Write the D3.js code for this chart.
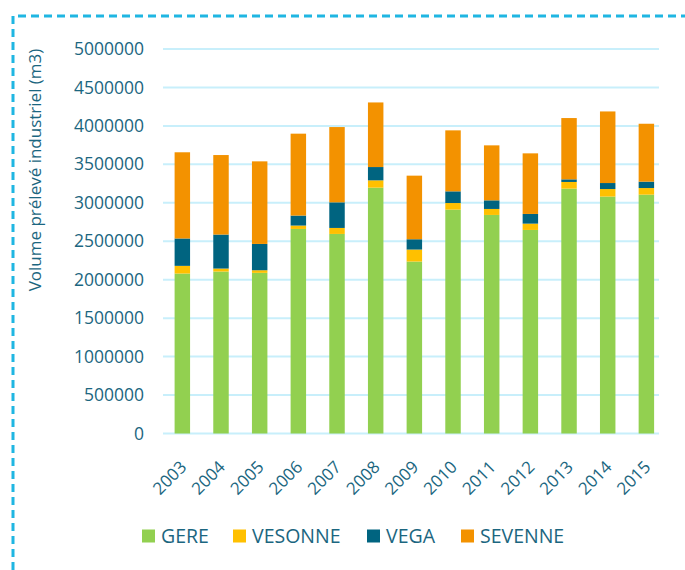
<!DOCTYPE html>
<html>
<head>
<meta charset="utf-8">
<script src="https://cdn.jsdelivr.net/npm/d3@7"></script>
<style>
  html, body { margin: 0; padding: 0; background: #fff; }
  svg { display: block; font-family: "Open Sans", sans-serif; }
</style>
</head>
<body>
<svg id="chart" width="685" height="570"></svg>
<script>
// Volume prélevé industriel per year, stacked by source
const years = ['2003', '2004', '2005', '2006', '2007', '2008', '2009', '2010', '2011', '2012', '2013', '2014', '2015'];
const gere    = [2080000, 2106000, 2089000, 2660000, 2595000, 3197000, 2236000, 2911000, 2842000, 2647000, 3184000, 3081000, 3106000];
const vesonne = [100000, 39000, 34000, 44000, 78000, 95000, 156000, 86000, 78000, 82000, 87000, 98000, 86000];
const vega    = [356000, 442000, 342000, 130000, 333000, 173000, 134000, 152000, 112000, 126000, 34000, 78000, 83000];
const sevenne = [1121000, 1034000, 1074000, 1065000, 979000, 840000, 827000, 793000, 715000, 788000, 797000, 931000, 753000];
const seriesNames = ['GERE', 'VESONNE', 'VEGA', 'SEVENNE'];
const yTicks = [0, 500000, 1000000, 1500000, 2000000, 2500000, 3000000, 3500000, 4000000, 4500000, 5000000];

const colors = { GERE: '#92d050', VESONNE: '#ffc000', VEGA: '#006480', SEVENNE: '#f39200' };
const textColor = '#1b6680';

const rows = years.map((y, i) => ({
  year: y, GERE: gere[i], VESONNE: vesonne[i], VEGA: vega[i], SEVENNE: sevenne[i]
}));
const stacked = d3.stack().keys(seriesNames)(rows);

const svg = d3.select('#chart');

// dashed frame (only top and left edges are in view)
svg.append('path')
  .attr('d', 'M13,700V16H700')
  .attr('fill', 'none')
  .attr('stroke', '#1fb6e2')
  .attr('stroke-width', 3)
  .attr('stroke-dasharray', '8,5');

const plotLeft = 163, plotRight = 659;
const y = d3.scaleLinear().domain([0, 5000000]).range([433.5, 49]);
const x = d3.scaleBand().domain(years)
  .range([163, 163 + 13 * 38.67])
  .paddingInner(0.6).paddingOuter(0.3);

// gridlines
svg.append('g')
  .selectAll('line')
  .data(yTicks)
  .join('line')
  .attr('x1', plotLeft).attr('x2', plotRight)
  .attr('y1', (d) => y(d)).attr('y2', (d) => y(d))
  .attr('stroke', '#c8effb')
  .attr('stroke-width', 2);

// y tick labels
svg.append('g')
  .selectAll('text')
  .data(yTicks)
  .join('text')
  .attr('x', 144)
  .attr('y', (d) => y(d))
  .attr('dy', '0.35em')
  .attr('text-anchor', 'end')
  .attr('font-size', 17.5)
  .attr('fill', textColor)
  .text((d) => String(d));

// bars
svg.append('g')
  .selectAll('g')
  .data(stacked)
  .join('g')
  .attr('fill', (s) => colors[s.key])
  .selectAll('rect')
  .data((s) => s)
  .join('rect')
  .attr('x', (d) => x(d.data.year))
  .attr('width', x.bandwidth())
  .attr('y', (d) => y(d[1]))
  .attr('height', (d) => y(d[0]) - y(d[1]));

// x labels, rotated
svg.append('g')
  .selectAll('text')
  .data(years)
  .join('text')
  .attr('transform', (d) => `translate(${x(d) + x.bandwidth() / 2 + 1},${464}) rotate(-45)`)
  .attr('text-anchor', 'end')
  .attr('dy', '0.35em')
  .attr('font-size', 17)
  .attr('fill', textColor)
  .text((d) => d);

// y axis title
svg.append('text')
  .attr('transform', 'translate(35,170) rotate(-90)')
  .attr('text-anchor', 'middle')
  .attr('dy', '0.35em')
  .attr('font-size', 17)
  .attr('fill', textColor)
  .text('Volume prélevé industriel (m3)');

// legend
const legendX = [142, 233, 367, 461];
const legend = svg.append('g')
  .selectAll('g')
  .data(seriesNames)
  .join('g')
  .attr('transform', (d, i) => `translate(${legendX[i]},536)`);
legend.append('rect')
  .attr('x', 0).attr('y', -6.5)
  .attr('width', 13).attr('height', 13)
  .attr('fill', (d) => colors[d]);
legend.append('text')
  .attr('x', 19)
  .attr('dy', '0.36em')
  .attr('font-size', 19.5)
  .attr('fill', textColor)
  .text((d) => d);
</script>
</body>
</html>
